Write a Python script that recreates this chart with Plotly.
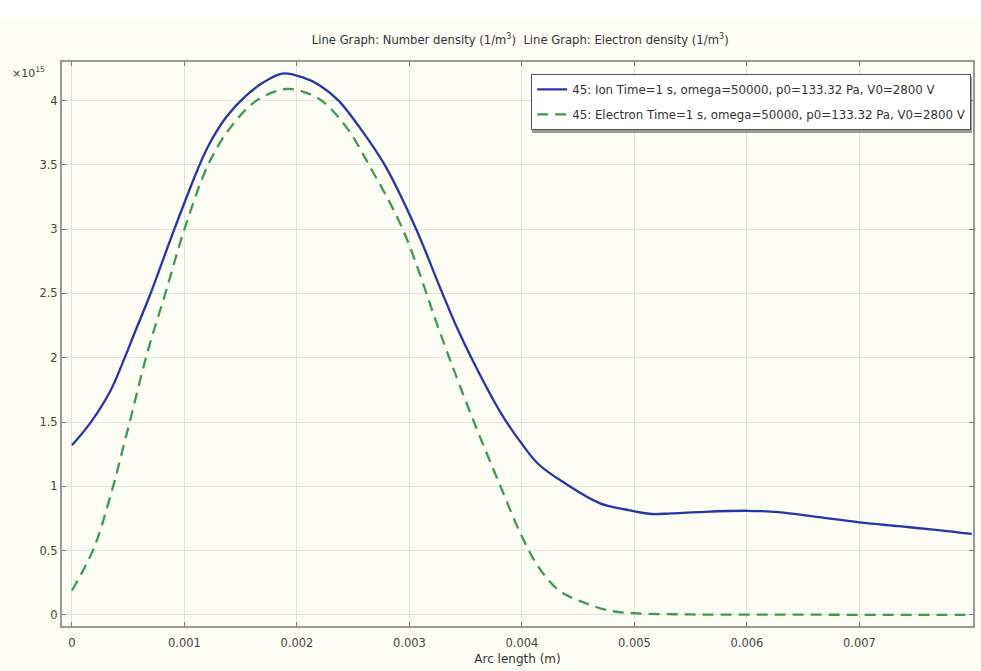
import plotly.graph_objects as go

# Arc length (m) and ion number density (x1e15 1/m^3)
ion_x = [0.0, 0.00016, 0.00034, 0.00045, 0.00056, 0.00069, 0.00091, 0.00112, 0.00122,
         0.00137, 0.00155, 0.0017, 0.00187, 0.00205, 0.0022, 0.00237, 0.00255, 0.00278,
         0.00306, 0.00327, 0.00343, 0.00362, 0.00382, 0.0040, 0.00415, 0.00439, 0.00469,
         0.00492, 0.00515, 0.00533, 0.00557, 0.0060, 0.00628, 0.00664, 0.0070, 0.00735,
         0.0077, 0.0080]
ion_y = [1.32, 1.49, 1.74, 1.96, 2.20, 2.48, 3.00, 3.47, 3.66,
         3.87, 4.04, 4.14, 4.21, 4.18, 4.12, 4.00, 3.80, 3.50,
         3.00, 2.55, 2.22, 1.88, 1.56, 1.33, 1.17, 1.02, 0.87,
         0.82, 0.785, 0.79, 0.80, 0.81, 0.80, 0.76, 0.72, 0.69,
         0.66, 0.63]

# Arc length (m) and electron density (x1e15 1/m^3)
el_x = [0.0, 0.00019, 0.00034, 0.00051, 0.00067, 0.00083, 0.0010, 0.00121, 0.0014,
        0.00164, 0.0019, 0.00205, 0.00222, 0.00245, 0.00264, 0.00294, 0.00327, 0.00344,
        0.00362, 0.0038, 0.0040, 0.00415, 0.00433, 0.00457, 0.0048, 0.00504, 0.0055,
        0.0060, 0.0065, 0.0070, 0.0075, 0.0080]
el_y = [0.19, 0.51, 0.92, 1.49, 2.04, 2.50, 3.00, 3.50, 3.78,
        4.00, 4.09, 4.07, 4.00, 3.78, 3.50, 3.00, 2.20, 1.80,
        1.40, 1.02, 0.61, 0.37, 0.19, 0.09, 0.03, 0.012, 0.004,
        0.002, 0.002, 0.001, 0.001, 0.001]

x_ticks = [0, 0.001, 0.002, 0.003, 0.004, 0.005, 0.006, 0.007]
x_tick_labels = ["0", "0.001", "0.002", "0.003", "0.004", "0.005", "0.006", "0.007"]
y_ticks = [0, 0.5, 1, 1.5, 2, 2.5, 3, 3.5, 4]
y_tick_labels = ["0", "0.5", "1", "1.5", "2", "2.5", "3", "3.5", "4"]

ion_name = "45: Ion Time=1 s, omega=50000, p0=133.32 Pa, V0=2800 V"
el_name = "45: Electron Time=1 s, omega=50000, p0=133.32 Pa, V0=2800 V"
title_text = ("Line Graph: Number density (1/m<sup>3</sup>)  "
              "Line Graph: Electron density (1/m<sup>3</sup>)")

BG = "#fdfdf6"
FONT = "DejaVu Sans"

fig = go.Figure()
fig.add_trace(go.Scatter(x=ion_x, y=ion_y, mode="lines", name=ion_name, legendgroup="ion",
                         line=dict(color="#2436a8", width=2.3, shape="spline", smoothing=1.0)))
fig.add_trace(go.Scatter(x=el_x, y=el_y, mode="lines", name=el_name, legendgroup="el",
                         line=dict(color="#3c9c4e", width=2.3, dash="11px,7px",
                                   shape="spline", smoothing=1.0)))

axis_common = dict(
    showgrid=True, gridcolor="#e2e2dc", gridwidth=1,
    showline=True, linecolor="#999999", linewidth=2, mirror="ticks",
    ticks="inside", ticklen=4, tickcolor="#777", zeroline=False,
    tickfont=dict(family=FONT, size=11.5, color="#444"),
)

fig.update_layout(
    width=981, height=671,
    paper_bgcolor=BG, plot_bgcolor=BG,
    margin=dict(l=62, r=6, t=62, b=45),
    font=dict(family=FONT, size=11, color="#333"),
    title=dict(text=title_text, x=0.503, xref="paper", xanchor="center",
               y=0.94, yanchor="middle",
               font=dict(family=FONT, size=11.6, color="#333")),
    xaxis=dict(range=[-0.0000887, 0.00801], tickvals=x_ticks, ticktext=x_tick_labels,
               ticklabelstandoff=5,
               title=dict(text="Arc length (m)", standoff=6,
                          font=dict(family=FONT, size=12, color="#333")),
               **axis_common),
    yaxis=dict(range=[-0.086, 4.30], tickvals=y_ticks, ticktext=y_tick_labels, **axis_common),
    legend=dict(x=0.998, xanchor="right", y=0.979, yanchor="top",
                bgcolor="#ffffff", bordercolor="#555", borderwidth=1,
                font=dict(family=FONT, size=11.8, color="#333"),
                traceorder="grouped", tracegroupgap=6, itemwidth=30),
    showlegend=True,
)

# x10^15 multiplier label
fig.add_annotation(text="×10<sup>15</sup>", xref="paper", yref="paper", x=-0.057, y=0.982,
                   xanchor="left", yanchor="middle", showarrow=False,
                   font=dict(family=FONT, size=11, color="#444"))

# legend drop shadow
fig.add_shape(type="rect", xref="paper", yref="paper",
              x0=0.516, x1=0.999, y0=0.874, y1=0.9734,
              fillcolor="#6f6f6f", line=dict(width=0), layer="above", opacity=0.7)

# white toolbar strip at the very top
fig.add_shape(type="rect", xref="paper", yref="paper",
              x0=-0.07, x1=1.01, y0=1.078, y1=1.12,
              fillcolor="#ffffff", line=dict(width=0), layer="below")

fig.write_html("out.html", config={"displayModeBar": False},
               post_script="document.body.style.margin='0';")
